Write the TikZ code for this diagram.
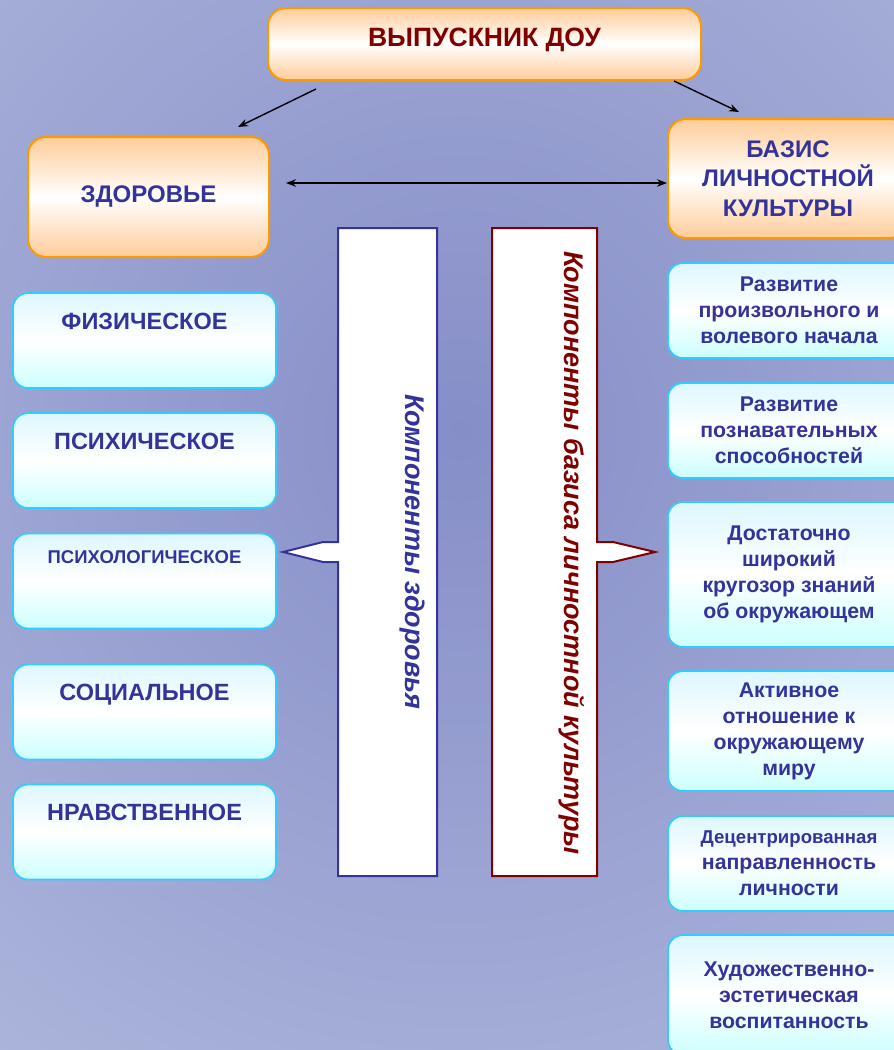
\documentclass[tikz,border=0pt]{standalone}
\usepackage{fontspec}
\setmainfont{Liberation Sans}
\usetikzlibrary{arrows.meta}
\definecolor{txtblue}{HTML}{333399}
\definecolor{txtred}{HTML}{800000}
\definecolor{boxorange}{HTML}{FF9900}
\definecolor{peach}{HTML}{FFCC99}
\definecolor{boxcyan}{HTML}{33CCFF}
\definecolor{topcyan}{HTML}{DDF7FF}
\definecolor{palecyan}{HTML}{CCFFFF}
\definecolor{bginner}{RGB}{134,142,200}
\definecolor{bgouter}{RGB}{196,206,230}
\newcommand{\fsz}[2]{\fontsize{#1}{#2}\selectfont\bfseries}
\tikzset{%
  orangebox/.style = {shape=rectangle, rounded corners=18pt,%
                      draw=boxorange, line width=2pt, align=center,%
                      top color=peach, bottom color=peach, middle color=white,%
                      text=txtblue},%
  cyanbox/.style   = {shape=rectangle, rounded corners=15pt,%
                      draw=boxcyan, line width=1.8pt, align=center,%
                      top color=topcyan, bottom color=palecyan, middle color=white,%
                      text=txtblue},%
  leftbox/.style   = {cyanbox, minimum width=263pt, minimum height=95pt,%
                      text height=17pt, text depth=40pt, font=\fsz{23.5}{27}},%
  rightbox/.style  = {cyanbox, minimum width=242pt, font=\fsz{21.3}{26}},%
  vtext/.style     = {rotate=-90, font=\fsz{27}{30}\itshape},%
  link/.style      = {line width=1.4pt, -{Stealth[length=10pt,width=7.5pt]}}%
}
\begin{document}
\begin{tikzpicture}[x=1pt,y=-1pt]
  \clip (0,0) rectangle (894,1050);
  \shade[inner color=bginner, outer color=bgouter] (460,430) circle (1300);

  % top level
  \node[orangebox, minimum width=433pt, minimum height=72pt,%
        text height=19pt, text depth=15pt, text=txtred, font=\fsz{26.5}{30}]%
        (grad) at (484.5,44) {ВЫПУСКНИК ДОУ};
  \node[orangebox, minimum width=241pt, minimum height=120pt, font=\fsz{24}{28}]%
        (health) at (148.5,197) {ЗДОРОВЬЕ};
  \node[orangebox, minimum width=240pt, minimum height=119pt, font=\fsz{24}{29.5}]%
        (basis) at (788,178.5) {БАЗИС\\ЛИЧНОСТНОЙ\\КУЛЬТУРЫ};

  \draw[link] ([xshift=49pt,yshift=-8pt]grad.south west) -- ([xshift=-32pt,yshift=9pt]health.north east);
  \draw[link] ([xshift=-28pt]grad.south east) -- ([xshift=72pt,yshift=6pt]basis.north west);
  \draw[link, {Stealth[length=10pt,width=7.5pt]}-{Stealth[length=10pt,width=7.5pt]}]%
        ([xshift=16pt,yshift=14pt]health.east) -- ([yshift=-4.5pt]basis.west);

  % components of health
  \node[leftbox] (phys)  at (144.5,340.5) {ФИЗИЧЕСКОЕ};
  \node[leftbox] (psych) at (144.5,460.5) {ПСИХИЧЕСКОЕ};
  \node[leftbox, text height=13pt, text depth=48pt, font=\fsz{18.5}{22}]%
        (psylog) at (144.5,581) {ПСИХОЛОГИЧЕСКОЕ};
  \node[leftbox] (social) at (144.5,712) {СОЦИАЛЬНОЕ};
  \node[leftbox] (moral)  at (144.5,832) {НРАВСТВЕННОЕ};

  % components of personal culture
  \node[rightbox, minimum height=95pt]  (will)  at (789,310.5) {Развитие\\произвольного и\\волевого начала};
  \node[rightbox, minimum height=95pt]  (cogn)  at (789,430.5) {Развитие\\познавательных\\способностей};
  \node[rightbox, minimum height=145pt] (know)  at (789,574.5) {Достаточно\\широкий\\кругозор знаний\\об окружающем};
  \node[rightbox, minimum height=120pt] (activ) at (789,731) {Активное\\отношение к\\окружающему\\миру};
  \node[rightbox, minimum height=95pt]  (decen) at (789,863.5) {{\fsz{18.6}{26}Децентрированная}\\направленность\\личности};
  \node[rightbox, minimum height=120pt] (art)   at (789,995) {Художественно-\\эстетическая\\воспитанность};

  % callouts
  \draw[draw=txtblue, fill=white, line width=2pt] (338,228) -- (437,228) -- (437,876) -- (338,876)%
        -- (338,562) -- (323,562) -- (283,552) -- (323,542) -- (338,542) -- cycle;
  \draw[draw=txtred, fill=white, line width=2pt] (492,228) -- (597,228) -- (597,542) -- (613,542)%
        -- (655,552) -- (613,562) -- (597,562) -- (597,876) -- (492,876) -- cycle;
  \node[vtext, text=txtblue] (hcomp) at (412,552) {Компоненты здоровья};
  \node[vtext, text=txtred]  (bcomp) at (572,553) {Компоненты базиса личностной культуры};
\end{tikzpicture}
\end{document}
